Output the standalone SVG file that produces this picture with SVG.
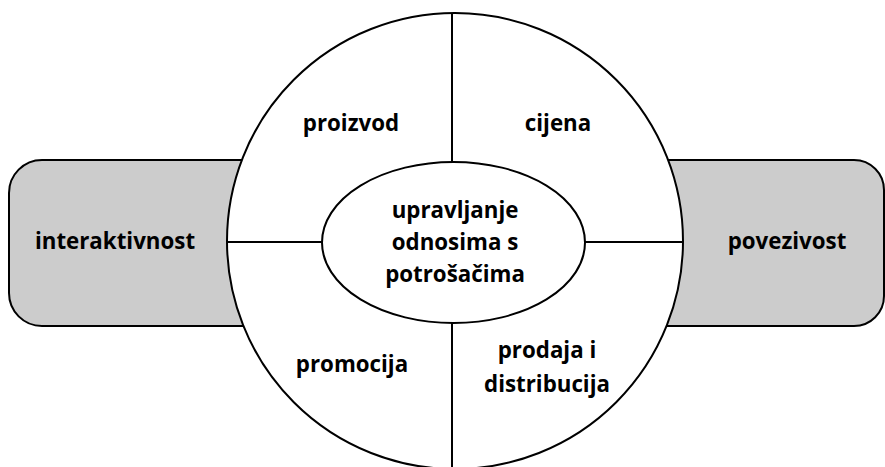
<svg xmlns="http://www.w3.org/2000/svg" width="885" height="467" viewBox="0 0 885 467">
<style>
.box{fill:#cccccc;stroke:#000;stroke-width:2}
.shape{fill:#fff;stroke:#000;stroke-width:2}
.line{stroke:#000;stroke-width:2;fill:none}
text{font-family:"Open Sans",sans-serif;font-weight:bold;font-size:22.3px;fill:#000;text-anchor:middle;font-variant-ligatures:none}
</style>
<g id="node-interaktivnost">
<rect class="box" x="9" y="160" width="300" height="166" rx="33" ry="33"/>
<text x="115" y="249">interaktivnost</text>
</g>
<g id="node-povezivost">
<rect class="box" x="600" y="160" width="284" height="166" rx="30" ry="30"/>
<text x="787" y="249">povezivost</text>
</g>
<g id="node-circle">
<circle class="shape" cx="455" cy="241" r="228"/>
</g>
<g id="connectors">
<line class="line" x1="452" y1="13" x2="452" y2="162"/>
<line class="line" x1="452" y1="323" x2="452" y2="469"/>
<line class="line" x1="227" y1="242" x2="322" y2="242"/>
<line class="line" x1="585" y1="242" x2="683" y2="242"/>
</g>
<g id="node-proizvod"><text x="351" y="131">proizvod</text></g>
<g id="node-cijena"><text x="558" y="131">cijena</text></g>
<g id="node-promocija"><text x="352" y="372">promocija</text></g>
<g id="node-prodaja"><text x="547" y="358">prodaja i</text><text x="547" y="392">distribucija</text></g>
<g id="node-center">
<ellipse class="shape" cx="453.5" cy="242.5" rx="131.5" ry="80.5"/>
<text x="455" y="218">upravljanje</text>
<text x="455" y="250">odnosima s</text>
<text x="455" y="282">potrošačima</text>
</g>
</svg>
